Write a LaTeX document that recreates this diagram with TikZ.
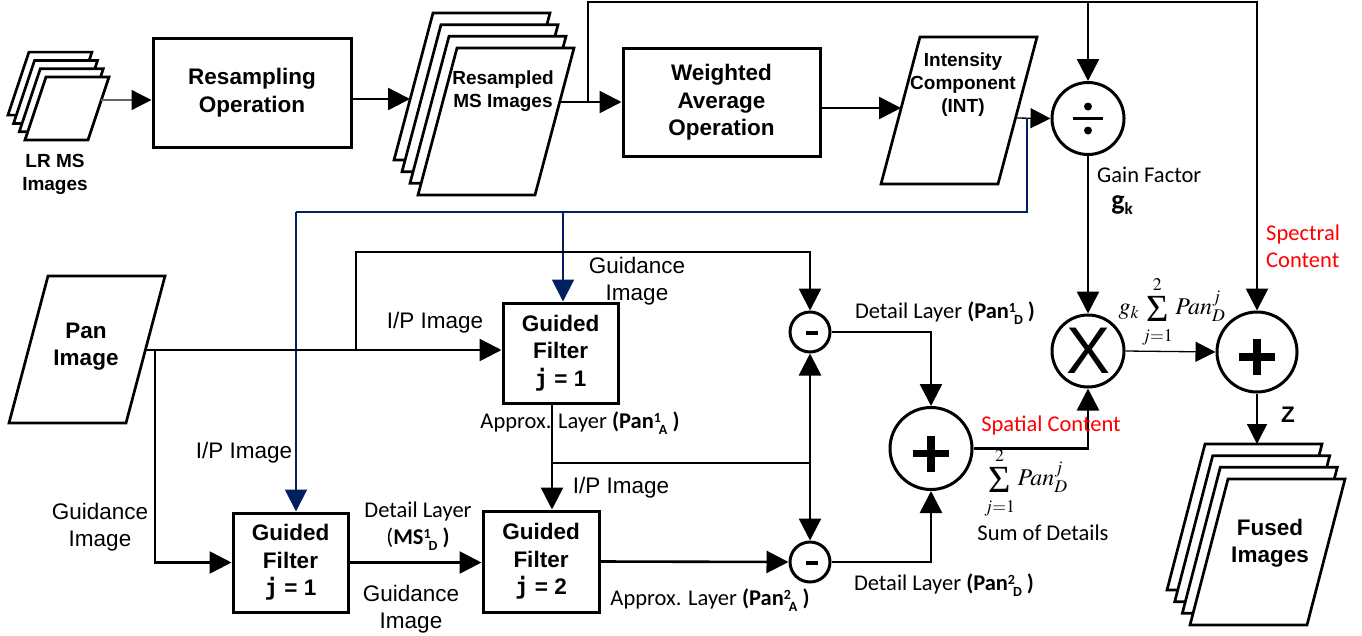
\documentclass[tikz,border=0pt]{standalone}
\usepackage{mathptmx}
\usepackage{graphicx}
\usepackage{fontspec}
\setmainfont{Liberation Sans}
\newfontfamily\calib{Carlito}
\newfontfamily\jmono{DejaVu Sans Mono}
\newfontfamily\timesfont{Liberation Serif}
\usetikzlibrary{arrows.meta}
\definecolor{navy}{RGB}{0,32,96}
% stacked super/subscript used in the layer labels
\newcommand{\ssb}[2]{\raisebox{0.6ex}{\fontsize{14}{14}\selectfont\bfseries #1}\kern-2pt\raisebox{-0.5ex}{\fontsize{14}{14}\selectfont\bfseries #2}}
% enlarged summation sign with spaced-out limits
\newcommand{\pansigma}{\mathop{\raisebox{-7pt}{\scalebox{1.6}{\timesfont\symbol{"03A3}}}}\limits}
\newcommand{\sumlimits}{\pansigma_{\rule{0pt}{16pt}j=1}^{2\rule[-3pt]{0pt}{3pt}}}
% one sheet of an image stack: top-left x, y, width, height, slant
\newcommand{\sheet}[5]{\draw[sheetline] (#1,#2) -- ++(#3,0) -- ++(-#5,#4) -- ++(-#3,0) -- cycle;}
\newcommand{\jeq}[1]{{\jmono j} = #1}
\tikzset{
  box/.style={draw, line width=3pt, inner sep=0pt, align=center, font=\bfseries\fontsize{22.5}{27.5}\selectfont},
  op/.style={draw, circle, line width=3pt, inner sep=0pt},
  conn/.style={line width=2.6pt, -{Triangle[length=22pt,width=22pt]}},
  wire/.style={line width=2.6pt},
  thinarr/.style={line width=1.3pt, -{Triangle[length=20pt,width=20pt]}},
  grayarr/.style={draw=black!60, line width=1.3pt, -{Triangle[length=20pt,width=20pt,color=black]}},
  bluewire/.style={draw=navy, line width=2pt},
  bluearr/.style={draw=navy, fill=navy, line width=2pt, -{Triangle[length=22pt,width=22pt]}},
  sheetline/.style={draw, fill=white, line width=2.7pt},
  lbl/.style={font=\fontsize{22.5}{27}\selectfont, align=center, inner sep=0pt},
  clbl/.style={font=\calib\fontsize{22.5}{27}\selectfont, align=center, inner sep=0pt},
  btxt/.style={font=\bfseries\fontsize{22.5}{27}\selectfont, align=center, inner sep=0pt},
  stxt/.style={font=\bfseries\fontsize{19}{23}\selectfont, align=center, inner sep=0pt},
  mathlbl/.style={font=\fontsize{24}{28}\selectfont, inner sep=0pt},
}
\begin{document}
\begin{tikzpicture}[x=1pt,y=-1pt]
\fill[white] (0,0) rectangle (1362,635);
\useasboundingbox (0,0) rectangle (1362,635);

% ---------- image stacks and parallelograms ----------
\sheet{28.9}{52.1}{63}{63}{21}
\sheet{34.6}{60.4}{63}{63}{21}
\sheet{40.3}{68.7}{63}{63}{21}
\sheet{46}{77}{63}{63}{21}
\node[stxt] (lrtxt) at (55,174) {LR MS\\Images};
\coordinate (lre) at (101.3,100);

\sheet{433}{13}{117}{147}{39}
\sheet{441}{24.7}{117}{147}{39}
\sheet{449}{36.3}{117}{147}{39}
\sheet{457}{48}{117}{147}{39}
\node[stxt] (rstxt) at (503,91) {Resampled\\MS Images};
\coordinate (rsw) at (410,99);
\coordinate (rse) at (559.7,102);

\draw[sheetline] (920,37) -- (1037,37) -- (998,184) -- (881,184) -- cycle;
\node[stxt] (inttxt) at (963,85) {Intensity\\Component\\(INT)};
\coordinate (intw) at (901,108);
\coordinate (inte) at (1015.5,118);

\draw[sheetline] (48,276) -- (165,276) -- (126,423) -- (9,423) -- cycle;
\node[btxt] (pantxt) at (86,347) {Pan\\Image};
\coordinate (pane) at (144.4,350);

\sheet{1205}{444}{117}{146}{38}
\sheet{1212.7}{455.7}{117}{146}{38}
\sheet{1220.3}{467.3}{117}{146}{38}
\sheet{1228}{479}{117}{146}{38}
\node[btxt] (fusedtxt) at (1270,543) {Fused\\Images};
\coordinate (fz) at (1257,444);

% ---------- processing blocks ----------
\node[box, minimum width=198pt, minimum height=109pt] (resamp) at (252,92.5) {Resampling\\Operation};
\node[box, minimum width=197pt, minimum height=108pt] (wavg) at (721.5,102.5) {Weighted\\Average\\Operation};
\node[box, minimum width=115pt, minimum height=100pt] (gf1) at (560.5,353) {Guided\\Filter\\\jeq{1}};
\node[box, minimum width=115pt, minimum height=99pt] (gfa) at (290.5,562.5) {Guided\\Filter\\\jeq{1}};
\node[box, minimum width=116pt, minimum height=101pt] (gf2) at (541,561.5) {Guided\\Filter\\\jeq{2}};

% ---------- operators ----------
\node[op, minimum size=72pt] (div) at (1088,118.5) {};
\node[op, minimum size=72pt] (mul) at (1088,351) {};
\node[op, minimum size=80pt] (plus) at (1257,352) {};
\node[op, minimum size=82pt] (sum) at (931,448.5) {};
\node[op, minimum size=40pt] (m1) at (810,332) {};
\node[op, minimum size=40pt] (m2) at (810,562) {};

\draw[line width=3pt] ([xshift=-15pt]div.center) -- ([xshift=15pt]div.center);
\fill ([yshift=12pt]div.center) circle (4pt);
\fill ([yshift=-12pt]div.center) circle (4pt);
\node[font=\fontsize{66}{66}\selectfont, inner sep=0pt] (mulx) at (mul.center) {X};
\draw[line width=7.5pt] ([shift={(-18pt,-5pt)}]plus.center) -- ([shift={(18pt,-5pt)}]plus.center);
\draw[line width=7.5pt] ([shift={(0pt,-23pt)}]plus.center) -- ([shift={(0pt,13pt)}]plus.center);
\draw[line width=7.5pt] ([shift={(-18pt,-5pt)}]sum.center) -- ([shift={(18pt,-5pt)}]sum.center);
\draw[line width=7.5pt] ([shift={(0pt,-23pt)}]sum.center) -- ([shift={(0pt,13pt)}]sum.center);
\draw[line width=4pt] ([shift={(-4pt,-1pt)}]m1.center) -- ([shift={(8pt,-1pt)}]m1.center);
\draw[line width=4pt] ([shift={(-4pt,-1pt)}]m2.center) -- ([shift={(8pt,-1pt)}]m2.center);

% ---------- connectors: top row ----------
\draw[grayarr] (lre) -- (lre -| resamp.west);
\draw[conn] (resamp.east |- rsw) -- (rsw);
\draw[conn] (rse) -- (rse -| wavg.west);
\draw[conn] (wavg.east |- intw) -- (intw);
\draw[thinarr] (inte) -- (div.west);

\coordinate (j1) at (588,102);
\coordinate (t1) at (588,2);
\coordinate (t2) at (1088,2);
\coordinate (t3) at (1257,2);
\draw[conn] (j1) -- (t1) -- (t3) -- (plus.north);
\draw[conn] (t2) -- (div.north);
\draw[conn] (div.south) -- (mul.north);
\draw[thinarr] (mul.east) -- (plus.west);
\draw[thinarr] (plus.south) -- (fz);

% ---------- connectors: intensity feed (blue) ----------
\coordinate (b0) at (1027,118);
\coordinate (b1) at (1027,212);
\coordinate (b2) at (296,212);
\coordinate (b3) at (563,212);
\draw[bluewire] (b0) -- (b1) -- (b2);
\draw[bluearr] (b2) -- (b2 |- gfa.north);
\draw[bluearr] (b3) -- (b3 |- gf1.north);

% ---------- connectors: pan branch ----------
\coordinate (p1) at (356,350);
\coordinate (p2) at (155,350);
\coordinate (g1) at (356,252);
\draw[conn] (pane) -- (pane -| gf1.west);
\draw[conn] (p1) -- (g1) -| (m1.north);
\draw[conn] (p2) |- (gfa.west);

\coordinate (a1) at (552,403);
\coordinate (a2) at (552,463);
\coordinate (a3) at (810,463);
\draw[conn] (a1) -- (a1 |- gf2.north);
\draw[wire] (a2) -- (a3);
\draw[conn] (a3) -- (m1.south);
\draw[conn] (a3) -- (m2.north);
\draw[conn] (gfa.east) -- (gfa.east -| gf2.west);
\draw[conn] (gf2.east) -- (m2.west);
\draw[conn] (m1.east) -| (sum.north);
\draw[conn] (m2.east) -| (sum.south);
\draw[conn] (sum.east) -| (mul.south);

% ---------- labels ----------
\node[lbl] (lguid1) at (637,281) {Guidance\\Image};
\node[lbl] (lip1) at (435,323) {I/P Image};
\node[clbl] (lapx1) at (580,423) {Approx. Layer \textbf{(Pan}\ssb{1}{A}\textbf{ )}};
\node[lbl] (lip2) at (621,488) {I/P Image};
\node[clbl] (lapx2) at (710,600) {Approx. Layer \textbf{(Pan}\ssb{2}{A}\textbf{ )}};
\node[clbl] (ldet1) at (945,313) {Detail Layer \textbf{(Pan}\ssb{1}{D}\textbf{ )}};
\node[clbl] (ldet2) at (944,585) {Detail Layer \textbf{(Pan}\ssb{2}{D}\textbf{ )}};
\node[lbl] (lip3) at (244,453) {I/P Image};
\node[lbl] (lguid2) at (100,527) {Guidance\\Image};
\node[clbl] (ldetms) at (418,526) {Detail Layer\\(\textbf{MS}\ssb{1}{D}\textbf{ )}};
\node[lbl] (lguid3) at (411,609) {Guidance\\Image};
\node[clbl, text=red] (lspat) at (1051,425) {Spatial Content};
\node[clbl, text=red, align=left, anchor=west] (lspec) at (1266,246) {Spectral\\Content};
\node[clbl, anchor=west] (lgain) at (1097,175) {Gain Factor};
\node[font=\calib\bfseries\fontsize{28}{28}\selectfont, inner sep=0pt] (lgk) at (1122,205) {g\raisebox{-5pt}{\fontsize{17}{17}\selectfont k}};
\node[clbl] (lsumd) at (1043,533) {Sum of Details};
\node[btxt] (lz) at (1288,415) {Z};
\node[mathlbl] (lgsum) at (1172,312) {$g_k\sumlimits Pan_D^j$};
\node[mathlbl] (ldsum) at (1026,483) {$\sumlimits Pan_D^j$};
\end{tikzpicture}
\end{document}
